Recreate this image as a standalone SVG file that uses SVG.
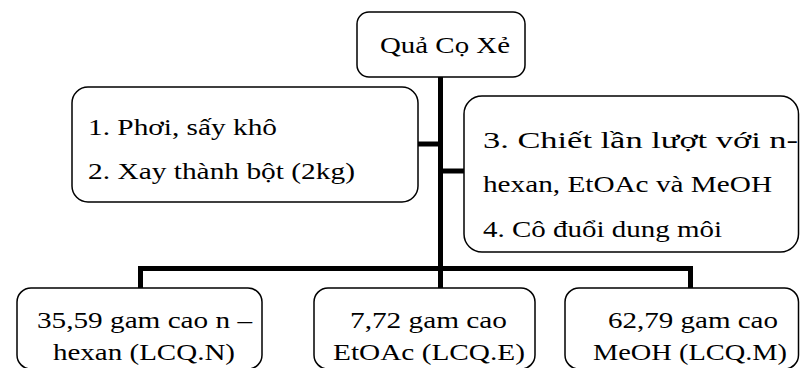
<svg xmlns="http://www.w3.org/2000/svg" width="800" height="368" viewBox="0 0 800 368">
  <style>
    .box { fill: #ffffff; stroke: #000000; stroke-width: 1.5; }
    .link { fill: none; stroke: #000000; stroke-width: 5; stroke-linejoin: miter; stroke-linecap: butt; }
  </style>
  <rect width="800" height="368" fill="#ffffff"/>

  <!-- connectors -->
  <g id="connectors">
    <path class="link" d="M440.5,77 V288"/>
    <path class="link" d="M418,144 H440.5"/>
    <path class="link" d="M440.5,171 H464"/>
    <path class="link" d="M140.5,288 V268.5 H690.5 V288"/>
  </g>

  <!-- boxes and their labels (serif lines, stretched to fixed widths) -->
  <g font-family="Liberation Serif" font-size="22.5" fill="#000000">
    <g id="root">
      <rect class="box" x="357" y="12" width="168" height="65" rx="12"/>
      <text x="380" y="53" textLength="130" lengthAdjust="spacingAndGlyphs">Quả Cọ Xẻ</text>
    </g>
    <g id="prep">
      <rect class="box" x="72" y="87" width="346" height="115" rx="16"/>
      <text x="88" y="135" textLength="189" lengthAdjust="spacingAndGlyphs">1. Phơi, sấy khô</text>
      <text x="88" y="179" textLength="267" lengthAdjust="spacingAndGlyphs">2. Xay thành bột (2kg)</text>
    </g>
    <g id="extract">
      <rect class="box" x="464" y="96" width="334.5" height="156" rx="18"/>
      <text x="483" y="148" textLength="315" lengthAdjust="spacingAndGlyphs">3. Chiết lần lượt với n-</text>
      <text x="483" y="192" textLength="289" lengthAdjust="spacingAndGlyphs">hexan, EtOAc và MeOH</text>
      <text x="483" y="237" textLength="239" lengthAdjust="spacingAndGlyphs">4. Cô đuổi dung môi</text>
    </g>
    <g id="hexane">
      <rect class="box" x="17" y="288" width="245" height="81" rx="14"/>
      <text x="37" y="328" textLength="215" lengthAdjust="spacingAndGlyphs">35,59 gam cao n –</text>
      <text x="53" y="360" textLength="182" lengthAdjust="spacingAndGlyphs">hexan (LCQ.N)</text>
    </g>
    <g id="etoac">
      <rect class="box" x="314" y="288" width="221" height="81" rx="14"/>
      <text x="350" y="328" textLength="157" lengthAdjust="spacingAndGlyphs">7,72 gam cao</text>
      <text x="333" y="360" textLength="192" lengthAdjust="spacingAndGlyphs">EtOAc (LCQ.E)</text>
    </g>
    <g id="meoh">
      <rect class="box" x="565" y="288" width="233.5" height="81" rx="14"/>
      <text x="608" y="328" textLength="170" lengthAdjust="spacingAndGlyphs">62,79 gam cao</text>
      <text x="593" y="360" textLength="194" lengthAdjust="spacingAndGlyphs">MeOH (LCQ.M)</text>
    </g>
  </g>
</svg>
